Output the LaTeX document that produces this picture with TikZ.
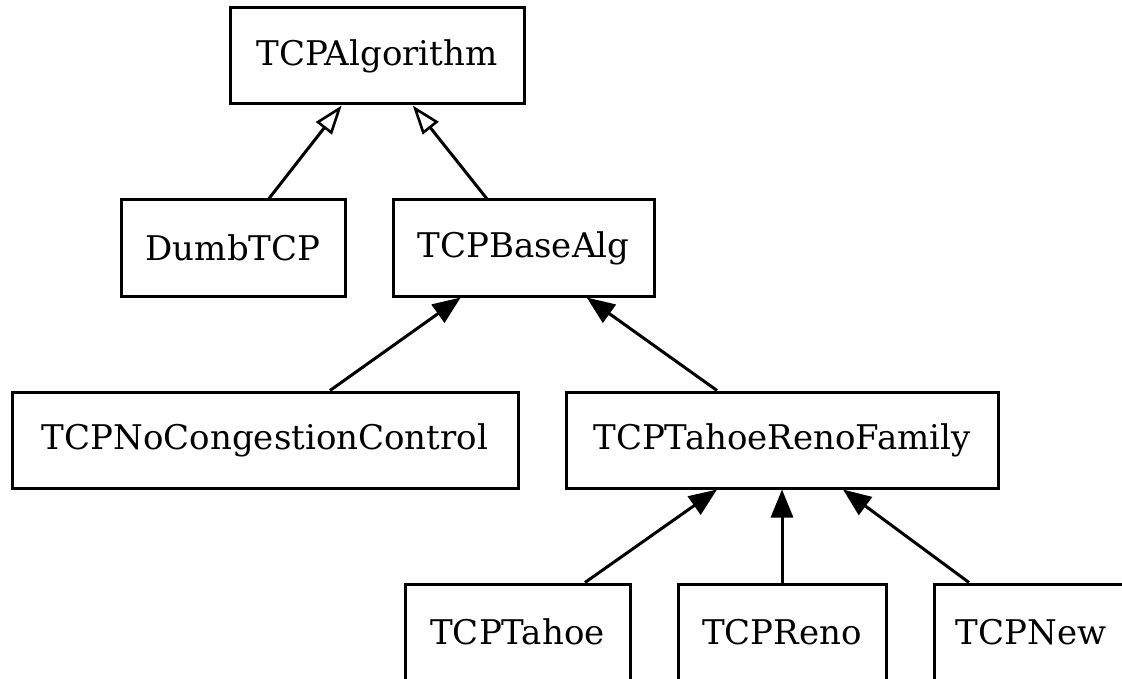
\documentclass[tikz,border=0pt]{standalone}
\usepackage{fontspec}
\setmainfont{DejaVu Serif}
\usetikzlibrary{calc}
\usetikzlibrary{arrows.meta}

\begin{document}
\begin{tikzpicture}[x=1pt, y=-1pt, line width=3pt,
  cls/.style={draw, rectangle, minimum height=96pt, inner sep=0pt,
    font=\fontsize{34}{40}\selectfont},
  gen/.style={-{Triangle[open, length=29pt, width=20pt, line width=2.6pt]}},
  inh/.style={-{Triangle[length=28pt, width=22pt]}}]
\useasboundingbox (0,0) rectangle (1122,679);
\clip (0,0) rectangle (1122,679);

\node[cls, minimum width=294pt] (alg) at (377,56) {TCPAlgorithm};
\node[cls, minimum width=224pt] (dumb) at (233,248) {DumbTCP};
\node[cls, minimum width=261pt] (base) at (523.5,248) {TCPBaseAlg};
\node[cls, minimum width=506pt] (nocc) at (265,440) {TCPNoCongestionControl};
\node[cls, minimum width=432pt] (family) at (782,440) {TCPTahoeRenoFamily};
\node[cls, minimum width=225pt] (tahoe) at (517.5,632) {TCPTahoe};
\node[cls, minimum width=208pt] (reno) at (782,632) {TCPReno};
\node[cls, minimum width=194pt] (new) at (1031,632) {TCPNew};

% generalisation
\draw[gen] ([xshift=36pt]dumb.north) -- ([xshift=-35.3pt]alg.south);
\draw[gen] ([xshift=-36.8pt]base.north) -- ([xshift=35.7pt]alg.south);

\draw[inh] ([xshift=65pt]nocc.north) -- ([xshift=-62.8pt]base.south);
\draw[inh] ([xshift=-65pt]family.north) -- ([xshift=63.2pt]base.south);

\draw[inh] ([xshift=67.5pt]tahoe.north) -- ([xshift=-65pt]family.south);
\draw[inh] (reno.north) -- (family.south);
\draw[inh] ([xshift=-62pt]new.north) -- ([xshift=61pt]family.south);

\end{tikzpicture}
\end{document}
